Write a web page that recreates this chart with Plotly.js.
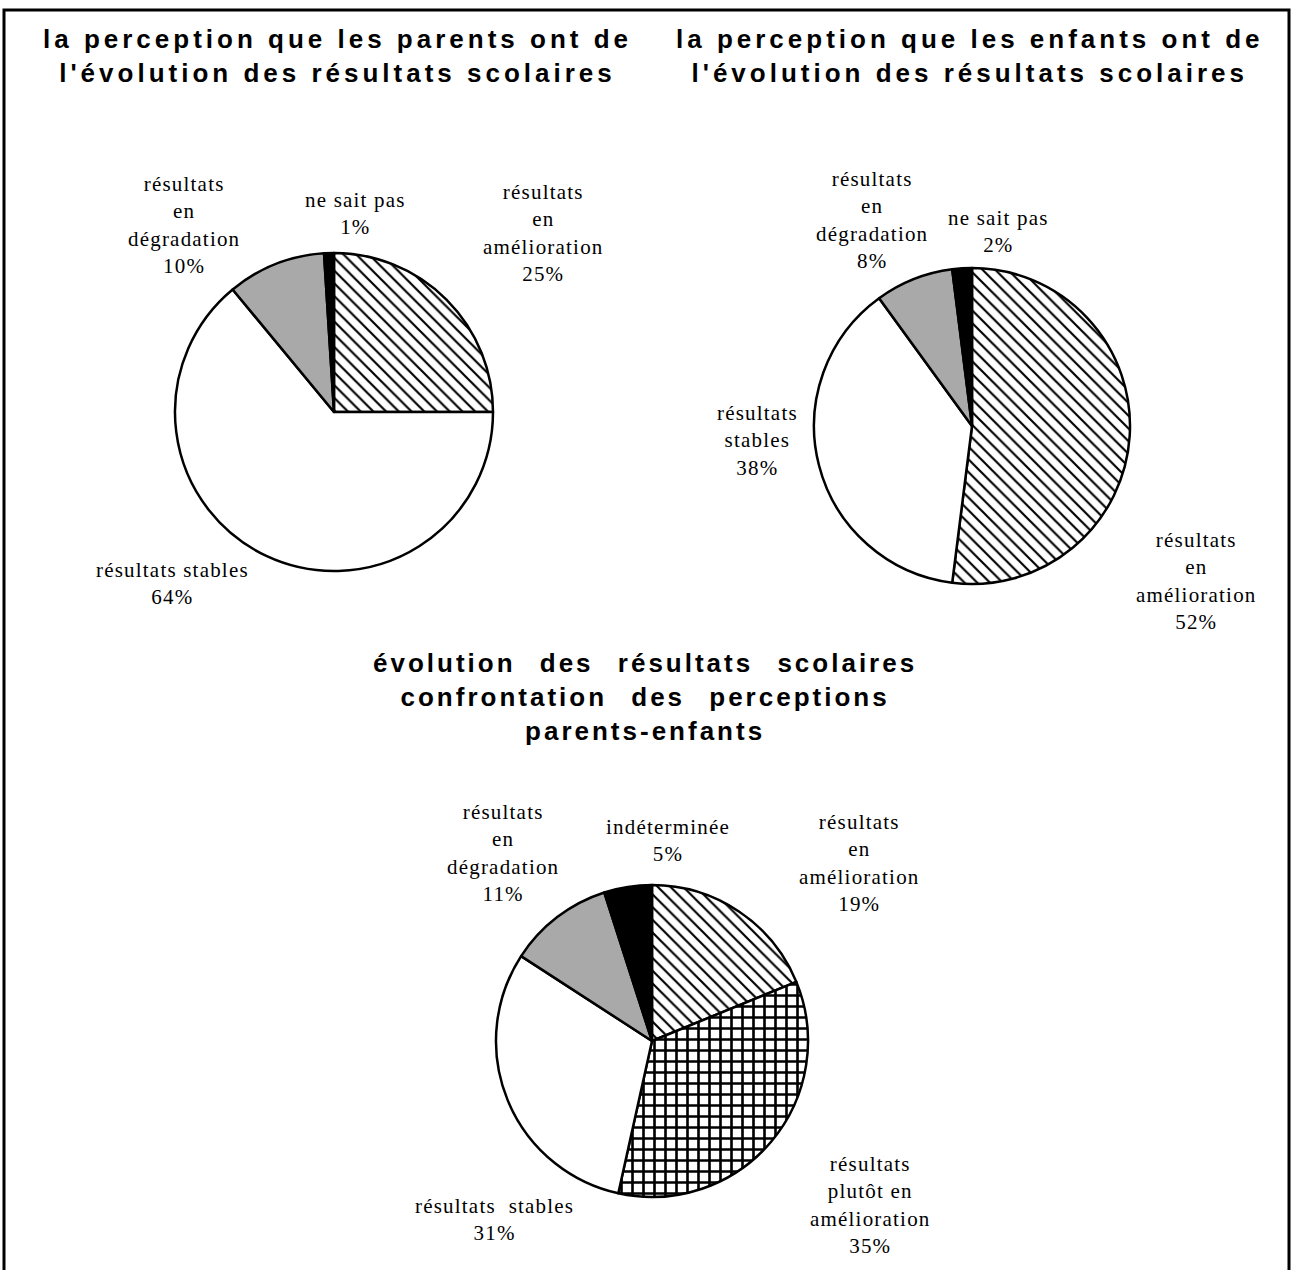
<!DOCTYPE html>
<html>
<head>
<meta charset="utf-8">
<script src="https://cdn.plot.ly/plotly-3.0.1.min.js"></script>
<style>
  html, body { margin: 0; padding: 0; background: #fff; }
  #chart { width: 1293px; height: 1270px; }
  text[style*="Liberation Sans"] { letter-spacing: 4px; }
  text[style*="Arial"] { letter-spacing: 3px; word-spacing: 14px; }
  text[style*="Liberation Serif"] { letter-spacing: 1.2px; }
</style>
</head>
<body>
<div id="chart"></div>
<script>
// ---- data ----
const parentCategories = ["résultats en amélioration", "résultats stables", "résultats en dégradation", "ne sait pas"];
const parentValues = [25, 64, 10, 1];
const parentLabelText = ["résultats<br>en<br>amélioration", "résultats stables", "résultats<br>en<br>dégradation", "ne sait pas"];

const childCategories = ["résultats en amélioration", "résultats stables", "résultats en dégradation", "ne sait pas"];
const childValues = [52, 38, 8, 2];
const childLabelText = ["résultats<br>en<br>amélioration", "résultats<br>stables", "résultats<br>en<br>dégradation", "ne sait pas"];

const confrontCategories = ["résultats en amélioration", "résultats plutôt en amélioration", "résultats stables", "résultats en dégradation", "indéterminée"];
const confrontValues = [19, 35, 31, 11, 5];
const confrontLabelText = ["résultats<br>en<br>amélioration", "résultats<br>plutôt en<br>amélioration", "résultats  stables", "résultats<br>en<br>dégradation", "indéterminée"];

const titleParents = "la perception que les parents ont de<br>l'évolution des résultats scolaires";
const titleEnfants = "la perception que les enfants ont de<br>l'évolution des résultats scolaires";
const titleConfront = "évolution des résultats scolaires<br>confrontation des perceptions<br>parents-enfants";

// ---- layout helpers ----
const W = 1293, H = 1270;
function dom(cx, cy, r) {
  return { x: [(cx - r) / W, (cx + r) / W], y: [1 - (cy + r) / H, 1 - (cy - r) / H] };
}
function px(x) { return x / W; }
function py(y) { return 1 - y / H; }

const GRAY = "#a9a9a9";

function pieTrace(cats, vals, dm, colors, shapes, sizes, solid) {
  return {
    type: "pie",
    labels: cats,
    values: vals,
    sort: false,
    direction: "clockwise",
    rotation: 0,
    textinfo: "none",
    hoverinfo: "skip",
    showlegend: false,
    domain: dm,
    marker: {
      colors: colors,
      line: { color: "#000", width: 2.5 },
      pattern: {
        shape: shapes,
        fgcolor: "#000",
        bgcolor: colors,
        size: sizes,
        solidity: solid
      }
    }
  };
}

const traces = [
  pieTrace(parentCategories, parentValues, dom(334, 412, 159),
    ["#fff", "#fff", GRAY, "#000"], ["\\", "", "", ""], [9, 9, 9, 9], [0.24, 0.2, 0.2, 0.2]),
  pieTrace(childCategories, childValues, dom(972, 426, 158),
    ["#fff", "#fff", GRAY, "#000"], ["\\", "", "", ""], [9, 9, 9, 9], [0.24, 0.2, 0.2, 0.2]),
  pieTrace(confrontCategories, confrontValues, dom(652, 1041, 156),
    ["#fff", "#fff", "#fff", GRAY, "#000"], ["\\", "+", "", "", ""], [9, 11, 9, 9, 9], [0.24, 0.42, 0.2, 0.2, 0.2])
];

const labelFont = { family: "Liberation Serif", size: 21, color: "#000" };
function lab(text, val, x, y) {
  return { text: text + "<br>" + val + "%", x: px(x), y: py(y), xref: "paper", yref: "paper",
           xanchor: "center", yanchor: "middle", showarrow: false, align: "center", font: labelFont };
}

const titleFont = { family: "Liberation Sans", size: 26, color: "#000", weight: "bold" };
const bottomFont = { family: "Arial, Liberation Sans", size: 26, color: "#000", weight: "bold" };

const annotations = [
  { text: titleParents, x: px(337), y: py(56), xref: "paper", yref: "paper", xanchor: "center", yanchor: "middle", showarrow: false, align: "center", font: titleFont },
  { text: titleEnfants, x: px(970), y: py(56), xref: "paper", yref: "paper", xanchor: "center", yanchor: "middle", showarrow: false, align: "center", font: titleFont },
  { text: titleConfront, x: px(645), y: py(697), xref: "paper", yref: "paper", xanchor: "center", yanchor: "middle", showarrow: false, align: "center", font: bottomFont },

  lab(parentLabelText[0], parentValues[0], 543, 233),
  lab(parentLabelText[1], parentValues[1], 172, 584),
  lab(parentLabelText[2], parentValues[2], 184, 225),
  lab(parentLabelText[3], parentValues[3], 355, 213),

  lab(childLabelText[0], childValues[0], 1196, 581),
  lab(childLabelText[1], childValues[1], 757, 441),
  lab(childLabelText[2], childValues[2], 872, 220),
  lab(childLabelText[3], childValues[3], 998, 232),

  lab(confrontLabelText[0], confrontValues[0], 859, 863),
  lab(confrontLabelText[1], confrontValues[1], 870, 1205),
  lab(confrontLabelText[2], confrontValues[2], 494, 1219),
  lab(confrontLabelText[3], confrontValues[3], 503, 853),
  lab(confrontLabelText[4], confrontValues[4], 668, 840)
];

const layout = {
  width: W, height: H,
  margin: { l: 0, r: 0, t: 0, b: 0 },
  paper_bgcolor: "#fff",
  plot_bgcolor: "#fff",
  showlegend: false,
  annotations: annotations,
  shapes: [
    { type: "rect", xref: "paper", yref: "paper", x0: px(4), x1: px(1289), y0: -0.05, y1: py(10),
      line: { color: "#000", width: 3 }, fillcolor: "rgba(0,0,0,0)" }
  ]
};

Plotly.newPlot("chart", traces, layout, { staticPlot: true, displayModeBar: false });
</script>
</body>
</html>
